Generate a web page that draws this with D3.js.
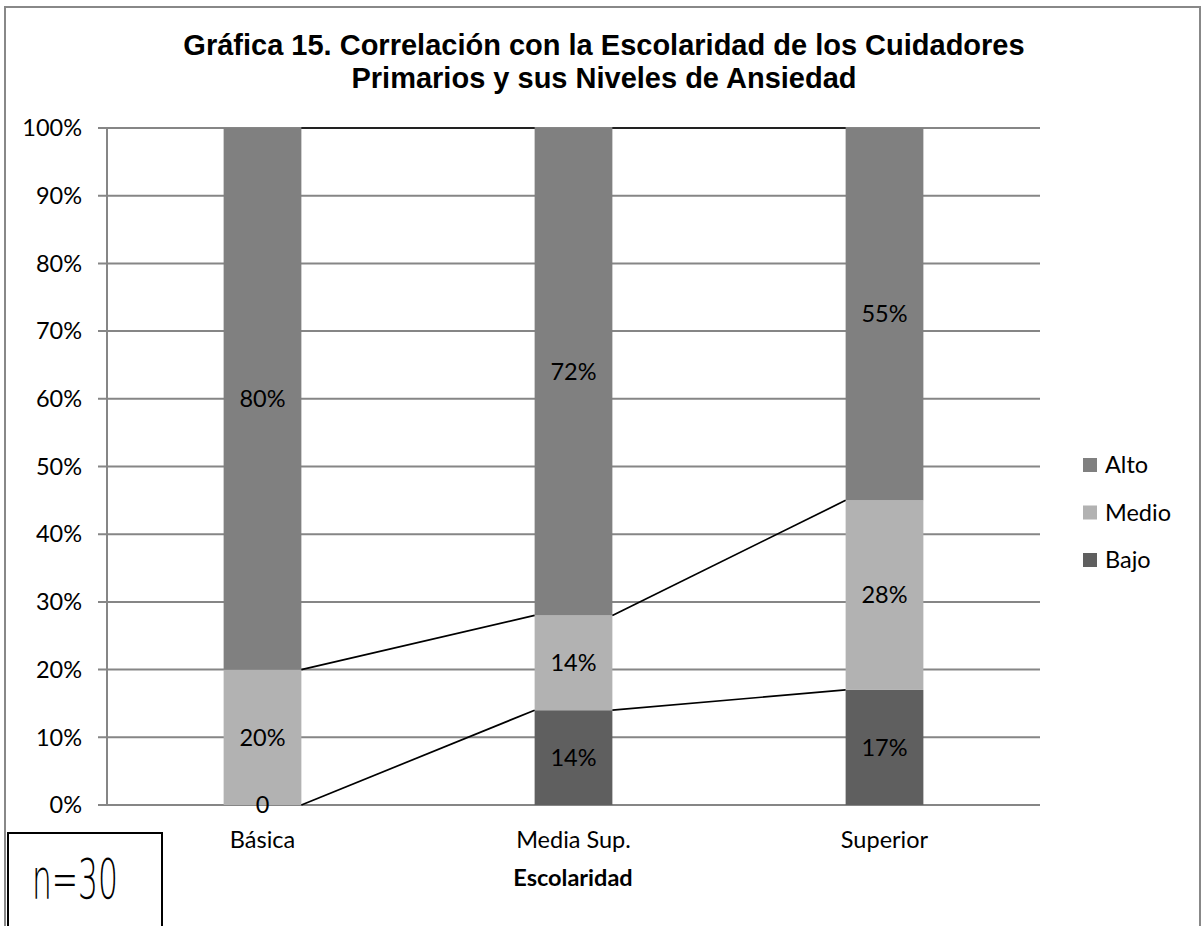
<!DOCTYPE html>
<html>
<head>
<meta charset="utf-8">
<script src="https://cdn.jsdelivr.net/npm/d3@7"></script>
<style>
  html, body { margin: 0; padding: 0; background: #fff; }
  svg { display: block; }
  .lbl { font-family: Lato, "Open Sans", sans-serif; font-size: 23.5px; fill: #000; }
</style>
</head>
<body>
<svg id="chart" width="1204" height="926"></svg>
<script>
const categories = ['Básica', 'Media Sup.', 'Superior'];
const bajo = [0, 14, 17];
const medio = [20, 14, 28];
const alto = [80, 72, 55];
const bajoLabels = ['0', '14%', '17%'];
const yTicks = [0, 10, 20, 30, 40, 50, 60, 70, 80, 90, 100];
const titleLines = ['Gráfica 15. Correlación con la Escolaridad de los Cuidadores', 'Primarios y sus Niveles de Ansiedad'];

const series = [
    { name: 'Bajo', values: bajo, color: '#5f5f5f' },
    { name: 'Medio', values: medio, color: '#b2b2b2' },
    { name: 'Alto', values: alto, color: '#808080' }
];

const svg = d3.select('#chart');
const plotLeft = 107, plotRight = 1040, plotTop = 128, plotBottom = 805;

// chart frame
svg.append('rect')
    .attr('x', 5).attr('y', 7)
    .attr('width', 1195).attr('height', 940)
    .attr('fill', '#fff')
    .attr('stroke', '#888').attr('stroke-width', 2);

// title
svg.append('g').selectAll('text')
    .data(titleLines)
    .enter().append('text')
    .attr('x', 604)
    .attr('y', (d, i) => 55 + i * 33)
    .attr('text-anchor', 'middle')
    .style('font-family', '"Liberation Sans", Arial, sans-serif')
    .style('font-weight', 'bold')
    .style('font-size', '29px')
    .text(d => d);

const x = d3.scaleBand().domain(categories).range([plotLeft, plotRight]).paddingInner(0.75).paddingOuter(0.375);
const y = d3.scaleLinear().domain([0, 100]).range([plotBottom, plotTop]);

// gridlines
svg.append('g').selectAll('line')
    .data(yTicks)
    .enter().append('line')
    .attr('x1', plotLeft - 9).attr('x2', plotRight)
    .attr('y1', d => y(d)).attr('y2', d => y(d))
    .attr('stroke', '#868686').attr('stroke-width', 2);

// y axis line
svg.append('line')
    .attr('x1', plotLeft).attr('x2', plotLeft)
    .attr('y1', plotTop).attr('y2', plotBottom)
    .attr('stroke', '#868686').attr('stroke-width', 2);

svg.append('g').selectAll('text')
    .data(yTicks)
    .enter().append('text')
    .attr('class', 'lbl')
    .attr('x', 82)
    .attr('y', d => y(d))
    .attr('dy', '0.35em')
    .attr('text-anchor', 'end')
    .text(d => d + '%');

// stack
const rows = categories.map((c, i) => ({ cat: c, Bajo: bajo[i], Medio: medio[i], Alto: alto[i] }));
const stacked = d3.stack().keys(series.map(s => s.name))(rows);

const layers = svg.append('g').selectAll('g')
    .data(stacked)
    .enter().append('g')
    .attr('fill', (d, i) => series[i].color);

layers.selectAll('rect')
    .data(d => d)
    .enter().append('rect')
    .attr('x', d => x(d.data.cat))
    .attr('width', x.bandwidth())
    .attr('y', d => y(d[1]))
    .attr('height', d => y(d[0]) - y(d[1]));

// series lines between bars
const lines = [];
stacked.forEach(layer => {
    for (let i = 0; i < layer.length - 1; i++) {
        lines.push({
            x1: x(categories[i]) + x.bandwidth(), y1: y(layer[i][1]),
            x2: x(categories[i + 1]), y2: y(layer[i + 1][1])
        });
    }
});
svg.append('g').selectAll('line')
    .data(lines)
    .enter().append('line')
    .attr('x1', d => d.x1).attr('y1', d => d.y1)
    .attr('x2', d => d.x2).attr('y2', d => d.y2)
    .attr('stroke', '#000').attr('stroke-width', 1.7);

// data labels
stacked.forEach((layer, si) => {
    svg.append('g').selectAll('text')
        .data(layer)
        .enter().append('text')
        .attr('class', 'lbl')
        .attr('x', d => x(d.data.cat) + x.bandwidth() / 2)
        .attr('y', d => y((d[0] + d[1]) / 2))
        .attr('dy', '0.35em')
        .attr('text-anchor', 'middle')
        .text((d, i) => series[si].name === 'Bajo' ? bajoLabels[i] : series[si].values[i] + '%');
});

// category labels
svg.append('g').selectAll('text')
    .data(categories)
    .enter().append('text')
    .attr('class', 'lbl')
    .attr('x', d => x(d) + x.bandwidth() / 2)
    .attr('y', 848)
    .attr('text-anchor', 'middle')
    .text(d => d);

svg.append('text')
    .attr('class', 'lbl')
    .attr('x', 573)
    .attr('y', 886)
    .attr('text-anchor', 'middle')
    .style('font-weight', 'bold')
    .text('Escolaridad');

// legend
const legend = svg.append('g').selectAll('g')
    .data(series.slice().reverse())
    .enter().append('g')
    .attr('transform', (d, i) => `translate(1083, ${465 + i * 47.5})`);
legend.append('rect')
    .attr('x', 0).attr('y', -7)
    .attr('width', 14).attr('height', 14)
    .attr('fill', d => d.color);
legend.append('text')
    .attr('class', 'lbl')
    .attr('x', 22)
    .attr('dy', '0.35em')
    .text(d => d.name);

// n box
svg.append('rect')
    .attr('x', 8).attr('y', 833)
    .attr('width', 154).attr('height', 100)
    .attr('fill', '#fff')
    .attr('stroke', '#000').attr('stroke-width', 2);
svg.append('text')
    .attr('x', 32).attr('y', 898)
    .attr('textLength', 86)
    .attr('lengthAdjust', 'spacingAndGlyphs')
    .style('font-family', '"DejaVu Sans", sans-serif')
    .style('font-weight', '300')
    .style('font-size', '56px')
    .text('n=30');
</script>
</body>
</html>
